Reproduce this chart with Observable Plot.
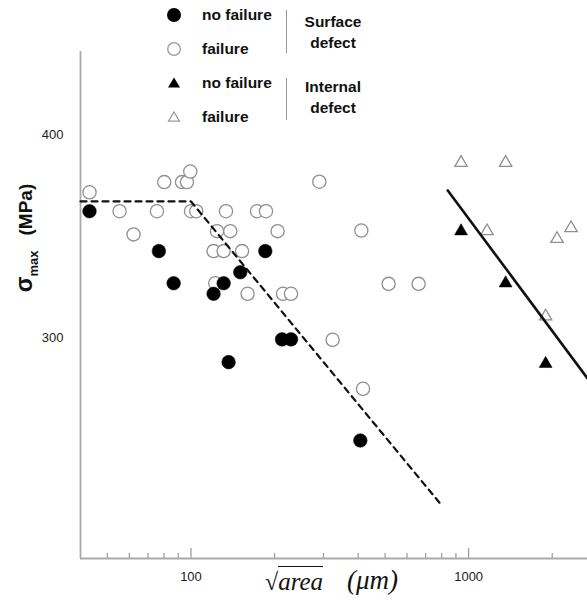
<!DOCTYPE html>
<html><head><meta charset="utf-8">
<script src="https://cdn.jsdelivr.net/npm/d3@7"></script>
<script src="https://cdn.jsdelivr.net/npm/@observablehq/plot@0.6"></script>
<style>
html,body{margin:0;padding:0;background:#fff;}
#wrap{position:relative;width:587px;height:603px;overflow:hidden;font-family:"Liberation Sans",Arial,sans-serif;color:#111;}
.abs{position:absolute;white-space:nowrap;}
.lg{font-weight:bold;font-size:15.5px;transform:translateY(-50%);line-height:1;}
.grp{font-weight:bold;font-size:15.5px;transform:translate(-50%,-50%);line-height:1;text-align:center;}
</style></head><body><div id="wrap"></div>
<script>
// ---- data ----
const surfaceNoFailureSize   = [43.1, 76.6, 86.6, 120.6, 131.1, 150.5, 185.2, 212.8, 229.2, 136.6, 407.3];
const surfaceNoFailureStress = [362.3, 342.7, 326.9, 321.7, 326.9, 332.3, 342.7, 299.3, 299.3, 288.1, 249.6];

const surfaceFailureSize   = [43.1, 80.1, 92.8, 96.7, 99.4, 55.3, 75.4, 100, 104.5, 133.7, 172.9, 186.3, 62.1, 124.1, 138.5, 205.1, 120.6, 131.1, 152.7, 122.3, 159.9, 214.5, 229.2, 289.9, 410.7, 515, 660.5, 323.7, 416.5];
const surfaceFailureStress = [371.6, 376.6, 376.6, 376.6, 381.8, 362.3, 362.3, 362.3, 362.3, 362.3, 362.3, 362.3, 350.9, 352.5, 352.5, 352.5, 342.7, 342.7, 342.7, 326.9, 321.7, 321.7, 321.7, 376.8, 352.8, 326.6, 326.6, 299.1, 275.0];

const internalNoFailureSize   = [939, 1359, 1894];
const internalNoFailureStress = [352.5, 326.9, 287.3];

const internalFailureSize   = [939, 1359, 1165, 2338, 2082, 1894];
const internalFailureStress = [386.1, 386.1, 352.5, 354.0, 348.7, 310.6];

const surfaceFitSize   = [40, 100, 800];
const surfaceFitStress = [367.1, 367.1, 217.7];
const internalFitSize   = [841, 2680];
const internalFitStress = [372.5, 280.1];

const xMajorTicks = [100, 1000];
const xMinorTicks = [50, 60, 70, 80, 90, 200, 300, 400, 500, 600, 700, 800, 900, 2000];
const yTicks = [300, 400];
const xDomain = [40, 2680];
const yDomain = [191.6, 440.8];

const legendItems = [
  {label: "no failure", kind: "dot-filled"},
  {label: "failure", kind: "dot-open"},
  {label: "no failure", kind: "tri-filled"},
  {label: "failure", kind: "tri-open"}
];
const legendGroups = [["Surface", "defect"], ["Internal", "defect"]];

// ---- build ----
const pts = (xs, ys) => xs.map((x, i) => ({x, y: ys[i]}));
const W = 587, H = 603, mT = 51, mB = 45, mL = 80, mR = 0;
const pxPerUnit = (H - mT - mB) / (yDomain[1] - yDomain[0]);
const axisGray = "#aaa";

const chart = Plot.plot({
  width: W, height: H,
  marginLeft: mL, marginRight: mR, marginTop: mT, marginBottom: mB,
  style: {background: "transparent", fontFamily: "'Liberation Sans', Arial, sans-serif", fontSize: "13px", color: "#222"},
  x: {type: "log", domain: xDomain},
  y: {domain: yDomain},
  marks: [
    Plot.axisX(xMajorTicks, {anchor: "bottom", tickSize: 0, tickPadding: 13, tickFormat: d => String(d), label: null, fontSize: 13}),
    Plot.axisY(yTicks, {anchor: "left", tickSize: 0, tickPadding: 17, tickFormat: d => String(d), label: null, fontSize: 13}),
    Plot.ruleX(xMinorTicks, {x: d => d, y1: yDomain[0], y2: yDomain[0] + 5 / pxPerUnit, stroke: "#999", strokeWidth: 1.2}),
    Plot.ruleX(xMajorTicks, {x: d => d, y1: yDomain[0], y2: yDomain[0] + 10 / pxPerUnit, stroke: "#999", strokeWidth: 1.2}),
    Plot.ruleY([yDomain[0]], {stroke: axisGray, strokeWidth: 1.8}),
    Plot.ruleX([xDomain[0]], {stroke: axisGray, strokeWidth: 1.8}),
    Plot.dot(pts(surfaceFailureSize, surfaceFailureStress), {x: "x", y: "y", r: 6.6, fill: "white", stroke: "#8f8f8f", strokeWidth: 1.3}),
    Plot.dot(pts(surfaceNoFailureSize, surfaceNoFailureStress), {x: "x", y: "y", r: 6.8, fill: "black", stroke: "black", strokeWidth: 0.5}),
    Plot.dot(pts(internalFailureSize, internalFailureStress), {x: "x", y: "y", symbol: "triangle", r: 4.6, fill: "white", stroke: "#8f8f8f", strokeWidth: 1.3}),
    Plot.dot(pts(internalNoFailureSize, internalNoFailureStress), {x: "x", y: "y", symbol: "triangle", r: 4.8, fill: "black", stroke: "black", strokeWidth: 0.5}),
    Plot.line(pts(surfaceFitSize, surfaceFitStress), {x: "x", y: "y", stroke: "#111", strokeWidth: 2.2, strokeDasharray: "6,5"}),
    Plot.line(pts(internalFitSize, internalFitStress), {x: "x", y: "y", stroke: "#111", strokeWidth: 2.6, clip: true})
  ]
});
chart.style.position = "absolute";
chart.style.left = "0px";
chart.style.top = "0px";
const wrap = document.getElementById("wrap");
wrap.appendChild(chart);

// ---- legend ----
const symbolSvg = kind => {
  const s = 18, c = 9;
  let inner = "";
  if (kind === "dot-filled") inner = `<circle cx="${c}" cy="${c}" r="7" fill="black"/>`;
  if (kind === "dot-open") inner = `<circle cx="${c}" cy="${c}" r="6.3" fill="white" stroke="#999" stroke-width="1.3"/>`;
  if (kind === "tri-filled") inner = `<path d="M${c},${c-5.5} L${c+6},${c+4.5} L${c-6},${c+4.5}Z" fill="black"/>`;
  if (kind === "tri-open") inner = `<path d="M${c},${c-5} L${c+5.5},${c+4.2} L${c-5.5},${c+4.2}Z" fill="white" stroke="#999" stroke-width="1.2"/>`;
  return `<svg width="${s}" height="${s}" style="display:block">${inner}</svg>`;
};
const legendRowY = [14.5, 49.3, 82.7, 116.8];
legendItems.forEach((it, i) => {
  const sym = document.createElement("div");
  sym.className = "abs";
  sym.style.left = (174 - 9) + "px";
  sym.style.top = (legendRowY[i] - 9) + "px";
  sym.innerHTML = symbolSvg(it.kind);
  wrap.appendChild(sym);
  const t = document.createElement("div");
  t.className = "abs lg";
  t.style.left = "202px";
  t.style.top = legendRowY[i] + "px";
  t.textContent = it.label;
  wrap.appendChild(t);
});
const groupY = [[21.7, 43.3], [87.3, 108.3]];
const barY = [[10, 53], [78, 120]];
legendGroups.forEach((g, gi) => {
  const bar = document.createElement("div");
  bar.className = "abs";
  bar.style.left = "286px";
  bar.style.top = barY[gi][0] + "px";
  bar.style.width = "1.3px";
  bar.style.height = (barY[gi][1] - barY[gi][0]) + "px";
  bar.style.background = "#999";
  wrap.appendChild(bar);
  g.forEach((line, li) => {
    const t = document.createElement("div");
    t.className = "abs grp";
    t.style.left = "333px";
    t.style.top = groupY[gi][li] + "px";
    t.textContent = line;
    wrap.appendChild(t);
  });
});

// ---- axis titles ----
const yl = document.createElement("div");
yl.className = "abs";
yl.style.left = "24px";
yl.style.top = "238px";
yl.style.transform = "translate(-50%,-50%) rotate(-90deg)";
yl.style.fontWeight = "bold";
yl.style.lineHeight = "1";
yl.innerHTML = '<span style="font-size:23px">σ</span><span style="font-size:13px;position:relative;top:6px">max</span><span style="display:inline-block;width:15px"></span><span style="font-size:19px">(MPa)</span>';
wrap.appendChild(yl);

const xl = document.createElement("div");
xl.className = "abs";
xl.style.left = "265px";
xl.style.top = "568px";
xl.style.fontFamily = "'Liberation Serif','DejaVu Serif',serif";
xl.style.fontSize = "24px";
xl.style.lineHeight = "1";
xl.style.color = "#111";
xl.innerHTML = '<span style="font-style:normal">√</span><span style="font-style:italic;font-size:25px;border-top:1.6px solid #111;padding-top:1px;">area</span><span style="display:inline-block;width:24px"></span><span style="font-style:italic;font-size:27px;position:relative;top:-1px">(μm)</span>';
wrap.appendChild(xl);
</script>
</body></html>
